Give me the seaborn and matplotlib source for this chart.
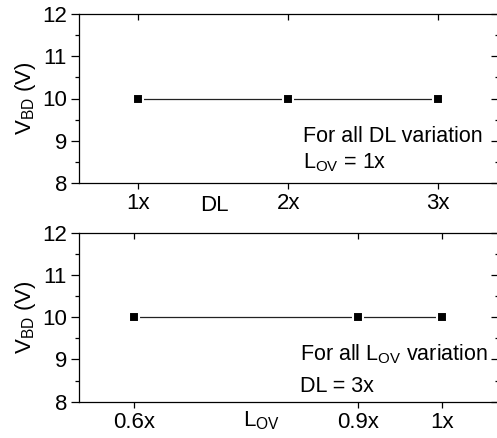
import matplotlib
matplotlib.use("Agg")
import matplotlib.pyplot as plt
import seaborn as sns
import numpy as np
import pandas as pd
from matplotlib.ticker import MultipleLocator

# ---- data ----
dl_pos = [1, 2, 3]
dl_labels = ["1x", "2x", "3x"]
dl_vbd = [10, 10, 10]

lov_pos = [0.97, 2.465, 3.024]
lov_labels = ["0.6x", "0.9x", "1x"]
lov_vbd = [10, 10, 10]

y_ticks = [8, 9, 10, 11, 12]

sns.set_theme(style="ticks")
plt.rcParams["font.family"] = ["Liberation Sans", "DejaVu Sans"]
plt.rcParams["mathtext.fontset"] = "custom"
plt.rcParams["mathtext.rm"] = "Liberation Sans"
plt.rcParams["mathtext.it"] = "Liberation Sans:italic"
plt.rcParams["axes.linewidth"] = 0.9

fig = plt.figure(figsize=(4.97, 4.38), dpi=100)
W, H = 497.0, 438.0
left = 78.5 / W
width = 419.5 / W
hgt = 169.0 / H
ax1 = fig.add_axes([left, (H - 183.0) / H, width, hgt])
ax2 = fig.add_axes([left, (H - 401.7) / H, width, hgt])

FS = 16
TFS = 15.5

def style(ax, xpos, xlabels):
    ax.set_xlim(0.6, 3.4)
    ax.set_ylim(8, 12)
    ax.set_xticks(xpos)
    ax.set_xticklabels(xlabels)
    ax.set_yticks(y_ticks)
    ax.yaxis.set_minor_locator(MultipleLocator(0.5))
    ax.spines["right"].set_visible(False)
    for s in ["left", "top", "bottom"]:
        ax.spines[s].set_color("black")
    ax.tick_params(axis="x", which="major", direction="out", length=4.5, width=0.9,
                   bottom=True, top=False, labelsize=FS, pad=3.0, colors="black")
    ax.tick_params(axis="y", which="major", direction="out", length=5.8, width=0.9,
                   left=True, right=False, labelsize=FS, pad=2.5, colors="black")
    ax.tick_params(axis="y", which="minor", direction="out", length=2.9, width=0.9,
                   left=True, right=False, colors="black")
    # opposite ticks (inward) on top / right
    sec = ax.secondary_xaxis("top")
    sec.set_xticks(xpos)
    sec.tick_params(direction="in", length=4.5, width=0.9, labeltop=False, colors="black")
    sec.spines["top"].set_visible(False)
    secy = ax.secondary_yaxis(1.0 - 0.5 / 419.5)
    secy.set_yticks(y_ticks)
    secy.yaxis.set_minor_locator(MultipleLocator(0.5))
    secy.tick_params(which="major", direction="in", length=4.8, width=0.9, labelright=False, colors="black")
    secy.tick_params(which="minor", direction="in", length=2.4, width=0.9, labelright=False, colors="black")
    secy.spines["right"].set_visible(False)
    ax.set_ylabel(r"V$_{\mathrm{BD}}$ (V)", fontsize=FS, color="black", labelpad=3)

def draw(ax, x, y):
    sns.lineplot(x=x, y=y, ax=ax, color="#222222", lw=0.9, marker="s",
                 markersize=6.5, markerfacecolor="black", markeredgecolor="white",
                 markeredgewidth=1.5, legend=False, sort=False)

draw(ax1, dl_pos, dl_vbd)
style(ax1, dl_pos, dl_labels)
ax1.set_xlabel("DL", fontsize=FS, color="black")
ax1.xaxis.set_label_coords((214 - 78.5) / 419.5, -0.133)
ax1.xaxis.label.set_va("center")
ax1.text((303.3 - 78.5) / 419.5, 0.244, "For all DL variation", transform=ax1.transAxes,
         fontsize=TFS, va="baseline", ha="left", color="black")
ax1.text((303.3 - 78.5) / 419.5, 0.089, r"L$_{\mathrm{OV}}$ = 1x", transform=ax1.transAxes,
         fontsize=TFS, va="baseline", ha="left", color="black")

draw(ax2, lov_pos, lov_vbd)
style(ax2, lov_pos, lov_labels)
ax2.set_xlabel(r"L$_{\mathrm{OV}}$", fontsize=FS, color="black")
ax2.xaxis.set_label_coords((261 - 78.5) / 419.5, -0.114)
ax2.xaxis.label.set_va("center")
ax2.text((300 - 78.5) / 419.5, 0.247, r"For all L$_{\mathrm{OV}}$ variation", transform=ax2.transAxes,
         fontsize=TFS, va="baseline", ha="left", color="black")
ax2.text((300 - 78.5) / 419.5, 0.059, "DL = 3x", transform=ax2.transAxes,
         fontsize=TFS, va="baseline", ha="left", color="black")

fig.savefig("out.png", dpi=100)
